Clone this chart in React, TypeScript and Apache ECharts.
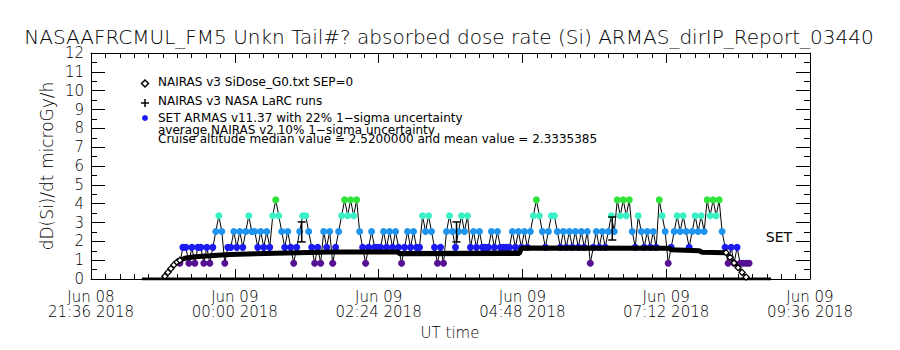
import { useEffect, useRef } from "react";
import * as echarts from "echarts";

const TITLE = "NASAAFRCMUL_FM5 Unkn Tail#? absorbed dose rate (Si) ARMAS_dirIP_Report_03440";
const Y_TITLE = "dD(Si)/dt microGy/h";
const X_TITLE = "UT time";
const X_TICK_LABELS = [
  "Jun 08\n21:36 2018",
  "Jun 09\n00:00 2018",
  "Jun 09\n02:24 2018",
  "Jun 09\n04:48 2018",
  "Jun 09\n07:12 2018",
  "Jun 09\n09:36 2018",
];
const LEGEND_TEXTS = [
  "NAIRAS v3 SiDose_G0.txt SEP=0",
  "NAIRAS v3 NASA LaRC runs",
  "SET ARMAS v11.37 with 22% 1\u2212sigma uncertainty",
  "average NAIRAS v2 10% 1\u2212sigma uncertainty",
  "Cruise altitude median value = 2.5200000 and mean value = 2.3335385",
];
const SET_LABEL = "SET";

// time values: minutes relative to Jun 09 2018 00:00 UT
const SIDOSE_T = [-93, -73, -70, -67, -64, -61, -58, -55, -50, -40, -25, 0, 50, 95, 163, 230, 285, 287, 365, 435, 470, 492, 496, 500, 504, 508, 512, 515, 537];
const SIDOSE_V = [0, 0, 0.15, 0.35, 0.55, 0.75, 0.9, 1.0, 1.1, 1.18, 1.23, 1.3, 1.38, 1.43, 1.44, 1.45, 1.46, 1.64, 1.64, 1.63, 1.45, 1.4, 1.15, 0.85, 0.6, 0.35, 0.1, 0, 0];

const LARC_T = [-57, -50, -40, -25, -5, 30, 95, 163, 165, 285, 287, 435, 437, 465, 468, 492];
const LARC_V = [0.95, 1.1, 1.18, 1.23, 1.3, 1.35, 1.43, 1.44, 1.34, 1.36, 1.64, 1.63, 1.55, 1.5, 1.42, 1.4];

const SEP_T = [-93, 537];
const SEP_V = [0, 0];

// ARMAS quantized dose levels (microGy/h) and per-sample level index
const ARMAS_LEVEL_DOSE = [0, 0.84, 1.68, 2.52, 3.36, 4.2];
const ARMAS_LEVEL_COLOR = ["#000000", "#551191", "#1c1cf0", "#1e94ee", "#3cf0c6", "#30e43a"];
const ARMAS_T0 = -55;
const ARMAS_STEP_MIN = 3;
const ARMAS_LEVELS = [
  1, 2, 2, 1, 2, 1, 2, 2, 1, 2,
  1, 2, 3, 4, 3, 1, 2, 2, 3, 2,
  3, 2, 3, 4, 3, 3, 2, 3, 2, 3,
  2, 4, 5, 4, 3, 2, 3, 2, 1, 2,
  3, 4, 4, 3, 2, 1, 2, 1, 3, 2,
  3, 1, 2, 3, 4, 5, 4, 5, 4, 5,
  3, 2, 1, 2, 3, 2, 2, 2, 3, 2,
  3, 2, 3, 2, 1, 2, 3, 2, 3, 2,
  2, 4, 3, 4, 3, 2, 1, 2, 1, 3,
  4, 3, 2, 3, 4, 3, 4, 2, 3, 2,
  3, 2, 2, 2, 3, 2, 3, 2, 2, 2,
  2, 3, 2, 3, 2, 3, 2, 3, 4, 5,
  4, 3, 2, 3, 4, 4, 3, 2, 3, 2,
  3, 2, 3, 2, 3, 2, 3, 1, 2, 3,
  2, 3, 2, 3, 4, 3, 5, 4, 5, 4,
  5, 3, 2, 4, 3, 2, 3, 2, 3, 2,
  5, 4, 3, 1, 2, 3, 4, 3, 4, 3,
  2, 3, 4, 3, 4, 3, 5, 4, 5, 4,
  5, 3, 2, 1, 2, 1, 2, 1, 1, 1,
  1,
];

// 22% 1-sigma error bars on median
const ERR_T = [67, 222, 378];
const ERR_LO = [1.97, 1.97, 2.07];
const ERR_HI = [3.03, 3.03, 3.29];

const FONT = "DejaVu Sans";
const FW = 200;

export default function App() {
  const ref = useRef<HTMLDivElement>(null);
  useEffect(() => {
    if (!ref.current) return;
    const chart = echarts.init(ref.current, undefined, { renderer: "svg" });

    const sidose = SIDOSE_T.map((t, i) => [t, SIDOSE_V[i]]);
    const larc = LARC_T.map((t, i) => [t, LARC_V[i]]);
    const sep = SEP_T.map((t, i) => [t, SEP_V[i]]);
    const armas = ARMAS_LEVELS.map((lv, i) => [ARMAS_T0 + i * ARMAS_STEP_MIN, ARMAS_LEVEL_DOSE[lv], lv]);
    const errs = ERR_T.map((t, i) => [t, ERR_LO[i], ERR_HI[i]]);

    const xBase = {
      type: "value",
      min: -144,
      max: 576,
      interval: 144,
      axisLine: { show: true, onZero: false, lineStyle: { color: "#000", width: 1 } },
      axisTick: { show: true, inside: true, length: 10, lineStyle: { color: "#000", width: 1 } },
      minorTick: { show: true, splitNumber: 10, length: 5, lineStyle: { color: "#000", width: 1 } },
      splitLine: { show: false },
      minorSplitLine: { show: false },
    };
    const yBase = {
      type: "value",
      min: 0,
      max: 12,
      interval: 1,
      axisLine: { show: true, onZero: false, lineStyle: { color: "#000", width: 1 } },
      axisTick: { show: true, inside: true, length: 14, lineStyle: { color: "#000", width: 1 } },
      minorTick: { show: true, splitNumber: 2, length: 6, lineStyle: { color: "#000", width: 1 } },
      splitLine: { show: false },
      minorSplitLine: { show: false },
    };

    const text = (x: number, y: number, s: string, size: number, align = "left", extra: any = {}, weight: any = FW) => ({
      type: "text",
      x,
      y,
      ...extra,
      style: {
        text: s,
        fontSize: size,
        fontFamily: FONT,
        fontWeight: weight,
        fill: "#000",
        align,
        verticalAlign: "middle",
        textAlign: align,
        textVerticalAlign: "middle",
      },
    });

    const option: any = {
      animation: false,
      backgroundColor: "#fff",
      grid: { left: 91, right: 90, top: 53, bottom: 71, containLabel: false, outerBoundsMode: "none" },
      xAxis: [
        {
          ...xBase,
          position: "bottom",
          axisLabel: {
            show: true,
            formatter: (v: number) => X_TICK_LABELS[Math.round((v + 144) / 144)] ?? "",
            fontSize: 15,
            fontFamily: FONT,
            fontWeight: FW,
            color: "#000",
            lineHeight: 15,
            margin: 10,
            showMinLabel: true,
            showMaxLabel: true,
            hideOverlap: false,
          },
        },
        { ...xBase, position: "top", axisLabel: { show: false } },
      ],
      yAxis: [
        {
          ...yBase,
          position: "left",
          axisLabel: { show: true, fontSize: 15, fontFamily: FONT, fontWeight: FW, color: "#000", margin: 7, showMinLabel: true, showMaxLabel: true },
        },
        { ...yBase, position: "right", axisLabel: { show: false } },
      ],
      graphic: [
        text(449, 37, TITLE, 20, "center"),
        text(47, 166, Y_TITLE, 17, "center", { rotation: Math.PI / 2 }),
        text(450, 333, X_TITLE, 15, "center"),
        text(779, 237, SET_LABEL, 14, "center", {}, "normal"),
        {
          type: "polygon",
          shape: { points: [[145, 80], [148.5, 83.5], [145, 87], [141.5, 83.5]] },
          style: { fill: "#fff", stroke: "#000", lineWidth: 1.5 },
        },
        { type: "line", shape: { x1: 141, y1: 103, x2: 149, y2: 103 }, style: { stroke: "#000", lineWidth: 1.5 } },
        { type: "line", shape: { x1: 145, y1: 99, x2: 145, y2: 107 }, style: { stroke: "#000", lineWidth: 1.5 } },
        { type: "circle", shape: { cx: 145, cy: 118, r: 3 }, style: { fill: ARMAS_LEVEL_COLOR[2] } },
        text(158, 82, LEGEND_TEXTS[0], 12, "left", {}, "normal"),
        text(158, 100.5, LEGEND_TEXTS[1], 12, "left", {}, "normal"),
        text(158, 117.5, LEGEND_TEXTS[2], 12, "left", {}, "normal"),
        text(158, 130, LEGEND_TEXTS[3], 12, "left", {}, "normal"),
        text(158, 139, LEGEND_TEXTS[4], 12, "left", {}, "normal"),
      ],
      series: [
        {
          name: "ARMAS line",
          type: "line",
          data: armas,
          symbol: "none",
          lineStyle: { color: "#000", width: 1 },
          z: 2,
        },
        {
          name: "SET ARMAS",
          type: "scatter",
          data: armas,
          symbol: "circle",
          symbolSize: 7,
          itemStyle: { color: (p: any) => ARMAS_LEVEL_COLOR[p.value[2]], opacity: 1 },
          z: 3,
        },
        {
          name: "SEP",
          type: "line",
          data: sep,
          symbol: "none",
          lineStyle: { color: "#000", width: 3 },
          z: 4,
        },
        {
          name: "NAIRAS v3 NASA LaRC runs",
          type: "line",
          data: larc,
          symbol: "none",
          lineStyle: { color: "#000", width: 5 },
          z: 5,
        },
        {
          name: "NAIRAS v3 SiDose_G0",
          type: "line",
          data: sidose,
          symbol: (v: number[]) => ((v[0] <= -55 || v[0] >= 492) && v[1] > 0 ? "diamond" : "none"),
          symbolSize: 6,
          showAllSymbol: true,
          itemStyle: { color: "#fff", borderColor: "#000", borderWidth: 1.3 },
          lineStyle: { color: "#000", width: 2 },
          z: 6,
        },
        {
          name: "error bars",
          type: "custom",
          data: errs,
          encode: { x: 0, y: [1, 2] },
          z: 7,
          renderItem: (params: any, api: any) => {
            const t = api.value(0);
            const lo = api.coord([t, api.value(1)]);
            const hi = api.coord([t, api.value(2)]);
            const w = 4;
            const st = { stroke: "#000", lineWidth: 1.5 };
            return {
              type: "group",
              children: [
                { type: "line", shape: { x1: lo[0], y1: lo[1], x2: hi[0], y2: hi[1] }, style: st },
                { type: "line", shape: { x1: hi[0] - w, y1: hi[1], x2: hi[0] + w, y2: hi[1] }, style: st },
                { type: "line", shape: { x1: lo[0] - w, y1: lo[1], x2: lo[0] + w, y2: lo[1] }, style: st },
              ],
            };
          },
        },
      ],
    };
    chart.setOption(option);
    return () => chart.dispose();
  }, []);
  return (
    <div
      ref={ref}
      style={{ position: "fixed", left: 0, top: 0, width: 900, height: 350, background: "#fff" }}
    />
  );
}
